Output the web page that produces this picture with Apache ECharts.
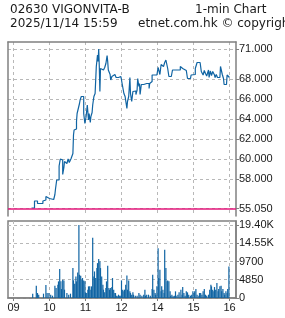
<!DOCTYPE html>
<html><head><meta charset="utf-8">
<script src="https://cdn.jsdelivr.net/npm/echarts@6/dist/echarts.min.js"></script>
<style>html,body{margin:0;padding:0;background:#fff}#c{width:285px;height:318px}</style>
</head><body><div id="c"></div>
<script>
const stockCode = '02630 VIGONVITA-B';
const chartKind = '1-min Chart';
const stamp = '2025/11/14 15:59';
const source = 'etnet.com.hk \u00a9 copyright';
const prevClose = 55.05;
const priceTicks = [71, 68, 66, 64, 62, 60, 58, 55.05];
const volTicks = [0, 4850, 9700, 14550, 19400];
const volTickLabels = ['0', '4850', '9700', '14.55K', '19.40K'];
const hourTicks = ['09:00', '10:00', '11:00', '12:00', '14:00', '15:00', '16:00'];
const hourLabels = ['09', '10', '11', '12', '14', '15', '16'];

const priceTimes = ['09:30','09:35','09:40','09:49','09:51','09:54','09:56','10:00','10:07','10:09','10:10','10:12','10:16','10:18','10:20','10:22','10:24','10:25','10:27','10:29','10:31','10:33','10:36','10:39','10:40','10:41','10:43','10:45','10:46','10:48','10:50','10:51','10:53','10:57','10:59','11:00','11:01','11:03','11:05','11:06','11:08','11:09','11:11','11:12','11:14','11:16','11:18','11:20','11:21','11:22','11:23','11:24','11:25','11:27','11:30','11:32','11:34','11:36','11:37','11:38','11:40','11:41','11:42','11:44','11:47','11:49','11:51','11:53','11:55','11:58','11:59','13:01','13:04','13:06','13:09','13:10','13:12','13:14','13:15','13:17','13:19','13:21','13:24','13:26','13:27','13:29','13:30','13:31','13:33','13:37','13:40','13:42','13:46','13:47','13:49','13:51','13:59','14:01','14:02','14:04','14:06','14:08','14:10','14:12','14:14','14:16','14:17','14:19','14:23','14:25','14:32','14:35','14:38','14:40','14:42','14:45','14:48','14:50','14:55','14:56','14:59','15:03','15:06','15:11','15:13','15:16','15:18','15:20','15:22','15:25','15:26','15:28','15:30','15:32','15:35','15:36','15:38','15:40','15:44','15:45','15:46','15:48','15:50','15:51','15:55','15:56','15:59','16:00'];
const priceValues = [55.10,55.80,55.55,55.80,55.90,56.25,56.05,55.95,56.10,56.45,57.00,57.90,59.30,60.00,59.90,58.45,59.15,59.75,59.55,59.75,60.00,59.65,60.05,60.55,62.40,62.90,63.00,63.75,64.55,65.05,65.55,65.90,66.25,64.55,63.55,63.45,64.25,65.40,63.90,64.55,63.65,64.25,64.65,65.40,66.25,66.55,69.25,70.40,69.75,71.00,69.25,66.75,69.05,68.90,69.05,69.15,69.55,70.35,69.75,68.90,68.75,68.45,67.90,68.25,68.45,68.25,68.15,68.15,68.05,68.15,68.25,67.55,66.55,66.25,65.05,65.75,66.25,68.15,66.55,65.75,66.75,66.80,66.45,66.90,68.05,67.25,67.55,66.45,67.45,67.45,67.55,67.55,67.05,67.55,67.75,68.40,68.40,69.15,69.35,68.45,69.45,69.25,69.40,69.65,69.90,70.00,69.05,68.25,68.45,68.90,68.85,68.90,69.25,69.05,68.90,68.85,68.65,68.05,68.05,68.40,68.45,69.05,69.65,69.65,68.75,68.40,68.85,68.55,68.30,68.90,68.15,68.80,68.35,68.75,68.40,68.15,68.45,68.15,68.05,69.25,69.05,68.45,68.05,67.45,67.45,68.40,68.25,68.15];

const volTimes = ['09:32','09:38','09:40','09:42','09:50','09:54','09:56','09:59','10:02','10:05','10:09','10:11','10:14','10:15','10:17','10:19','10:20','10:22','10:24','10:25','10:29','10:32','10:35','10:39','10:40','10:42','10:44','10:45','10:47','10:49','10:50','10:52','10:54','10:55','10:57','10:59','11:00','11:02','11:04','11:05','11:07','11:09','11:10','11:12','11:14','11:15','11:17','11:19','11:20','11:22','11:24','11:25','11:27','11:29','11:30','11:32','11:34','11:35','11:37','11:39','11:40','11:42','11:44','11:45','11:47','11:49','11:50','11:52','11:54','11:55','11:57','11:59','13:00','13:02','13:04','13:05','13:07','13:09','13:10','13:12','13:14','13:15','13:17','13:19','13:20','13:23','13:26','13:29','13:31','13:34','13:37','13:39','13:40','13:42','13:45','13:48','13:51','13:52','13:54','13:56','13:57','13:59','14:01','14:02','14:04','14:06','14:07','14:09','14:11','14:12','14:14','14:16','14:17','14:19','14:21','14:22','14:24','14:26','14:28','14:30','14:31','14:34','14:36','14:39','14:41','14:42','14:44','14:46','14:48','14:50','14:52','14:55','14:57','14:59','15:01','15:02','15:04','15:06','15:09','15:10','15:12','15:14','15:16','15:18','15:20','15:22','15:25','15:27','15:29','15:30','15:32','15:34','15:35','15:37','15:39','15:41','15:42','15:44','15:46','15:47','15:49','15:51','15:52','15:54','15:56','15:57','15:59'];
const volValues = [1150,3270,1320,880,1150,3440,1320,1320,880,620,
3270,2650,3530,4420,7680,4420,2380,4860,4680,2210,
1320,880,1150,7950,4680,3800,5740,4420,6800,19430,
6180,5920,4860,5300,4680,4420,1500,1320,2210,3090,
3090,2210,3090,15980,5740,7060,5300,7950,9270,10330,
9710,7950,5740,3530,2210,1500,2650,4420,8570,2650,
2210,2650,2910,5300,2210,1320,1320,620,440,880,
620,620,4680,2210,1770,2210,3530,6000,2210,4680,
1770,1320,880,1500,880,620,620,1320,880,620,
880,2210,620,880,880,620,2380,6180,2210,1320,
880,3090,13250,5300,7510,1770,3090,2210,1320,12800,
7950,4420,4680,4420,1770,620,880,440,620,1770,
620,880,1500,2210,880,2910,1320,620,1770,1500,
880,620,880,1770,1320,1770,2380,880,620,1320,
1320,880,1770,2380,880,620,880,2210,3530,3090,
2210,1770,2910,2210,3970,1770,2380,3090,3270,1770,
2380,1320,880,1770,1320,2380,8390];

// trading-minute index (lunch break removed)
function toIdx(t) {
  const p = t.split(':').map(Number);
  const m = (p[0] - 9) * 60 + p[1];
  return m > 180 ? m - 60 : m;
}
const hourIdx = hourTicks.map(toIdx);
const priceData = priceTimes.map((t, i) => [toIdx(t), priceValues[i]]);
const volData = volTimes.map((t, i) => [toIdx(t), volValues[i]]);

const FRAME = '#808080', GRIDC = '#b8b8b8', BLUE = '#1064a3', TXT = '#1a1a1a';
const LABEL_FONT = 'Liberation Sans';
const xMin = -9.1667, xMax = 370.8333;
const dashed = { show: true, lineStyle: { color: GRIDC, type: [3, 3], width: 1 } };

const chart = echarts.init(document.getElementById('c'), null, { renderer: 'canvas' });
chart.setOption({
  animation: false,
  backgroundColor: '#fff',
  graphic: [
    { type: 'text', x: 10, y: 10, style: { text: stockCode, font: '12px "DejaVu Sans"', fill: TXT, verticalAlign: 'middle' } },
    { type: 'text', x: 195, y: 10, style: { text: chartKind, font: '12px "DejaVu Sans"', fill: TXT, verticalAlign: 'middle' } },
    { type: 'text', x: 10, y: 24, style: { text: stamp, font: '12px "DejaVu Sans"', fill: TXT, verticalAlign: 'middle' } },
    { type: 'text', x: 138, y: 24, style: { text: source, font: '12px "DejaVu Sans"', fill: TXT, verticalAlign: 'middle' } }
  ],
  grid: [
    { left: 8, width: 228, top: 42, height: 174, show: false },
    { left: 8, width: 228, top: 221, height: 77, show: true, borderColor: FRAME, borderWidth: 1.5, backgroundColor: 'transparent' }
  ],
  xAxis: [
    { type: 'value', gridIndex: 0, position: 'top', min: xMin, max: xMax,
      axisLine: { show: true, onZero: false, lineStyle: { color: FRAME, width: 1.5 } },
      axisTick: { show: false, customValues: hourIdx }, axisLabel: { show: false, customValues: hourIdx },
      splitLine: dashed },
    { type: 'value', gridIndex: 1, position: 'bottom', min: xMin, max: xMax,
      axisLine: { show: true, onZero: false, lineStyle: { color: FRAME, width: 1.5 } },
      axisTick: { show: true, length: 3, customValues: hourIdx, lineStyle: { color: FRAME } },
      axisLabel: { show: true, customValues: hourIdx, margin: 4, color: TXT, fontFamily: LABEL_FONT, fontSize: 11,
        formatter: v => hourLabels[hourIdx.indexOf(v)] },
      splitLine: dashed }
  ],
  yAxis: [
    { type: 'value', gridIndex: 0, position: 'right', min: 54.3, max: 71.7,
      axisLine: { show: true, onZero: false, lineStyle: { color: FRAME, width: 1.5 } },
      axisTick: { show: true, length: 3, customValues: priceTicks, lineStyle: { color: FRAME } },
      axisLabel: { show: true, customValues: priceTicks, margin: 3, color: TXT, fontFamily: LABEL_FONT, fontSize: 11,
        formatter: v => v.toFixed(3) },
      splitLine: dashed },
    { type: 'value', gridIndex: 0, position: 'left', min: 54.3, max: 71.7,
      axisLine: { show: true, onZero: false, lineStyle: { color: FRAME, width: 1.5 } },
      axisTick: { show: false }, axisLabel: { show: false }, splitLine: { show: false } },
    { type: 'value', gridIndex: 1, position: 'right', min: 0, max: 20460,
      axisLine: { show: true, onZero: false, lineStyle: { color: FRAME, width: 1.5 } },
      axisTick: { show: true, length: 3, customValues: volTicks, lineStyle: { color: FRAME } },
      axisLabel: { show: true, customValues: volTicks, margin: 3, color: TXT, fontFamily: LABEL_FONT, fontSize: 11,
        formatter: v => volTickLabels[volTicks.indexOf(v)] },
      splitLine: dashed }
  ],
  series: [
    { type: 'line', xAxisIndex: 0, yAxisIndex: 0, data: priceData, step: 'end', showSymbol: false,
      lineStyle: { color: BLUE, width: 1.2 }, itemStyle: { color: BLUE }, z: 3,
      markLine: { silent: true, symbol: 'none', label: { show: false },
        lineStyle: { color: '#e5177b', width: 1.5, type: 'solid' }, data: [{ yAxis: prevClose }] } },
    { type: 'bar', xAxisIndex: 1, yAxisIndex: 2, data: volData, barWidth: 1.2,
      itemStyle: { color: BLUE } }
  ]
});
</script></body></html>
